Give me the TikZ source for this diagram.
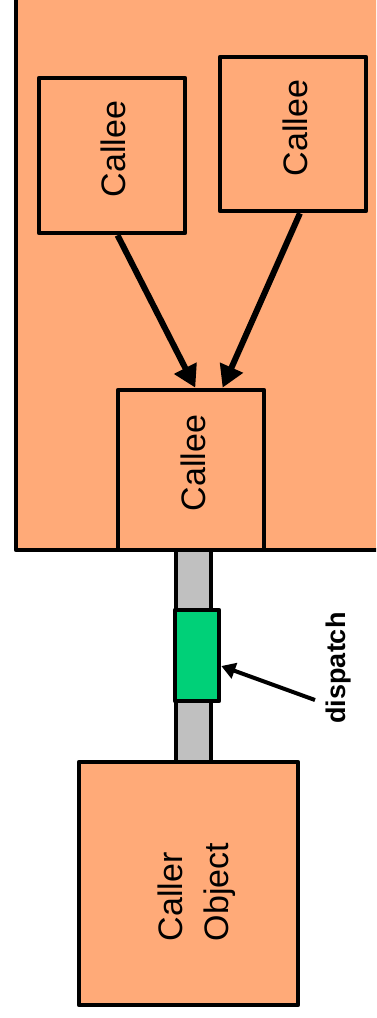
\documentclass[tikz,border=0pt]{standalone}
\usepackage{fontspec}
\setmainfont{Liberation Sans}
\usetikzlibrary{arrows.meta}
\definecolor{salmonfill}{RGB}{255,170,120}
\definecolor{barfill}{RGB}{192,192,192}
\definecolor{greenfill}{RGB}{0,208,120}
\begin{document}
\begin{tikzpicture}[x=1pt,y=-1pt,line join=round,
  objbox/.style={draw=black,line width=4.6pt,fill=salmonfill,inner sep=0pt},
  lbl/.style={rotate=90,font=\fontsize{34}{46}\selectfont,inner sep=0pt,align=left},
  bigarrow/.style={line width=6pt,-{Triangle[length=22pt,width=24pt]},shorten <=0pt},
  smallarrow/.style={line width=4pt,-{Triangle[length=14pt,width=16pt]}}]
\useasboundingbox (0,0) rectangle (376,1018);
% container
\begin{scope}
\clip (0,0) rectangle (376,1018);
\path[draw=black,line width=4.6pt,fill=salmonfill] (16,-20) rectangle (400,550);
\end{scope}
% bar and dispatch box
\node[draw=black,line width=4pt,fill=barfill,minimum width=35pt,minimum height=212pt,inner sep=0pt] (bar) at (193,656) {};
\node[draw=black,line width=4.6pt,fill=greenfill,minimum width=44pt,minimum height=91pt,inner sep=0pt] (disp) at (197,655.5) {};
% boxes
\node[objbox,minimum width=146pt,minimum height=155pt] (c1) at (112,155.5) {};
\node[objbox,minimum width=146pt,minimum height=154pt] (c2) at (293,134) {};
\node[objbox,minimum width=146pt,minimum height=160pt] (c3) at (191,470) {};
\node[objbox,minimum width=219pt,minimum height=243pt] (caller) at (188.5,883.5) {};
% labels
\node[lbl] (t1) at (113,149) {Callee};
\node[lbl] (t2) at (295,128) {Callee};
\node[lbl] (t3) at (193,463) {Callee};
\node[lbl] (t4) at (197,892) {Caller\\Object};
\node[rotate=90,font=\bfseries\fontsize{27}{30}\selectfont,inner sep=0pt] (dl) at (339,668) {dispatch};
% arrows
\draw[bigarrow] (c1.274) -- (c3.87);
\draw[bigarrow] (c2.275) -- (c3.69);
\coordinate (ds) at (315,700);
\draw[smallarrow] (ds) -- (disp.east |- 0,666);
\end{tikzpicture}
\end{document}
